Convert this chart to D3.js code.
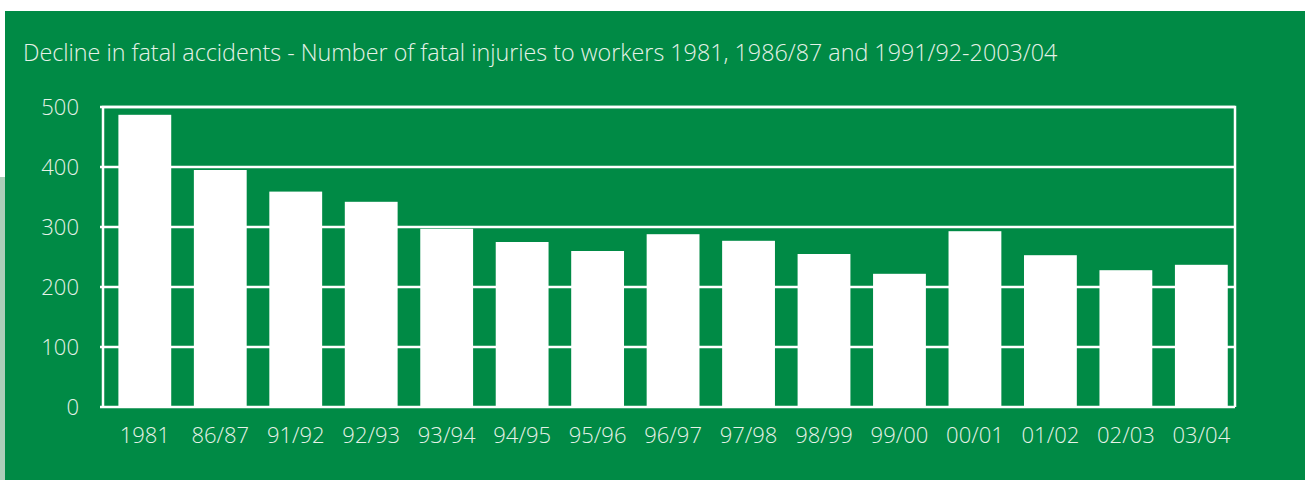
<!DOCTYPE html>
<html lang="en">
<head>
<meta charset="utf-8">
<script src="https://cdn.jsdelivr.net/npm/d3@7/dist/d3.min.js"></script>
<style>
  body { margin: 0; background: #fff; }
  svg text { font-family: "Open Sans", "Lato", sans-serif; font-weight: 300; fill: #e6f2e8; }
</style>
<title>Decline in fatal accidents</title>
</head>
<body>
<script>

// data
var periods = ["1981", "86/87", "91/92", "92/93", "93/94", "94/95", "95/96", "96/97", "97/98", "98/99", "99/00", "00/01", "01/02", "02/03", "03/04"];
var fatalities = [487, 395, 359, 342, 297, 275, 260, 288, 277, 255, 222, 293, 253, 228, 237];
var yTicks = [0, 100, 200, 300, 400, 500];
var title = "Decline in fatal accidents - Number of fatal injuries to workers 1981, 1986/87 and 1991/92-2003/04";

var w = 1305, h = 480;
var green = "#008a45";
var plotLeft = 103, plotRight = 1235, plotTop = 107, plotBottom = 407;

var svg = d3.select("body").append("svg")
  .attr("width", w)
  .attr("height", h);

// background panel
svg.append("rect").attr("x", 0).attr("y", 177).attr("width", 6).attr("height", h - 177).attr("fill", "#abcfb9");
svg.append("rect").attr("x", 5).attr("y", 11).attr("width", w - 5).attr("height", h - 11).attr("fill", green);

svg.append("text")
  .attr("x", 23)
  .attr("y", 61)
  .style("font-size", "23.3px")
  .text(title);

var x = d3.scaleBand()
  .domain(periods)
  .range([plotLeft, plotRight])
  .paddingInner(0.3)
  .paddingOuter(0.15)
  .align(0.68);

var y = d3.scaleLinear()
  .domain([0, 500])
  .range([plotBottom, plotTop]);

// gridlines
svg.append("g")
  .selectAll("line")
  .data(yTicks)
  .enter()
  .append("line")
  .attr("x1", plotLeft - 3)
  .attr("x2", plotRight)
  .attr("y1", function(d){ return y(d); })
  .attr("y2", function(d){ return y(d); })
  .attr("stroke", "#fff")
  .attr("stroke-width", 2.5);

// frame
svg.append("path")
  .attr("d", "M" + plotLeft + "," + plotBottom + "V" + plotTop + "H" + plotRight + "V" + plotBottom)
  .attr("fill", "none")
  .attr("stroke", "#fff")
  .attr("stroke-width", 2.5);

svg.selectAll("rect.bar")
  .data(fatalities)
  .enter()
  .append("rect")
  .attr("class", "bar")
  .attr("x", function(d, i){ return x(periods[i]); })
  .attr("y", function(d){ return y(d); })
  .attr("width", x.bandwidth())
  .attr("height", function(d){ return y(0) - y(d); })
  .attr("fill", "#fff");

var yAxis = d3.axisLeft(y).tickValues(yTicks).tickSize(0).tickPadding(24);
var gy = svg.append("g")
  .attr("transform", "translate(" + plotLeft + ",0)")
  .call(yAxis);
gy.select(".domain").remove();
gy.selectAll("text").style("font-size", "22px").attr("dy", "0.36em").attr("fill", null);

var xAxis = d3.axisBottom(x).tickSize(0).tickPadding(20);
var gx = svg.append("g")
  .attr("transform", "translate(0," + plotBottom + ")")
  .call(xAxis);
gx.select(".domain").remove();
gx.selectAll("text").style("font-size", "22px").attr("fill", null);

</script>
</body>
</html>
